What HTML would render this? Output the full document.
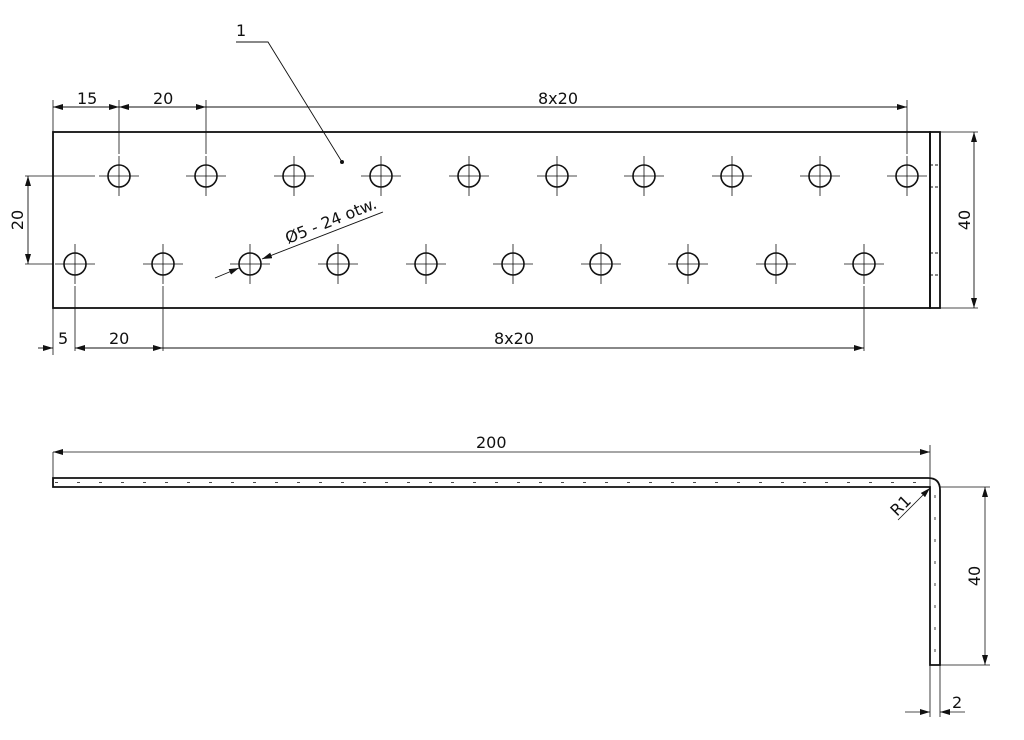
<!DOCTYPE html>
<html><head><style>body{margin:0;background:#fff}svg{display:block}text{font-family:"DejaVu Sans","Liberation Sans",sans-serif;font-size:16px;fill:#111}</style></head><body>
<svg width="1024" height="740" viewBox="0 0 1024 740" xmlns="http://www.w3.org/2000/svg">
<defs><marker id="a" viewBox="0 0 10 6" refX="10" refY="3" markerWidth="10" markerHeight="6" orient="auto-start-reverse" markerUnits="userSpaceOnUse"><path d="M0,0L10,3L0,6z" fill="#111"/></marker></defs>
<g stroke="#111" fill="none" stroke-width="1">
<rect x="53" y="132" width="877" height="176" stroke-width="1.8"/>
<rect x="930" y="132" width="10" height="176" stroke-width="1.8"/>
<path d="M930,165h10M930,187h10M930,253h10M930,275h10" stroke-dasharray="3 2"/>
<g id="holes" stroke-width="0.8">
</g>
</g>
<g stroke="#111" fill="none" stroke-width="1.6">
<circle cx="119" cy="176" r="11"/><circle cx="206" cy="176" r="11"/><circle cx="294" cy="176" r="11"/><circle cx="381" cy="176" r="11"/><circle cx="469" cy="176" r="11"/><circle cx="557" cy="176" r="11"/><circle cx="644" cy="176" r="11"/><circle cx="732" cy="176" r="11"/><circle cx="820" cy="176" r="11"/><circle cx="907" cy="176" r="11"/>
<circle cx="75" cy="264" r="11"/><circle cx="163" cy="264" r="11"/><circle cx="250" cy="264" r="11"/><circle cx="338" cy="264" r="11"/><circle cx="426" cy="264" r="11"/><circle cx="513" cy="264" r="11"/><circle cx="601" cy="264" r="11"/><circle cx="688" cy="264" r="11"/><circle cx="776" cy="264" r="11"/><circle cx="864" cy="264" r="11"/>
</g>
<g stroke="#111" stroke-width="0.8">
<path d="M99,176h40M119,156v40M186,176h40M206,156v40M274,176h40M294,156v40M361,176h40M381,156v40M449,176h40M469,156v40M537,176h40M557,156v40M624,176h40M644,156v40M712,176h40M732,156v40M800,176h40M820,156v40M887,176h40M907,156v40"/>
<path d="M55,264h40M75,244v40M143,264h40M163,244v40M230,264h40M250,244v40M318,264h40M338,244v40M406,264h40M426,244v40M493,264h40M513,244v40M581,264h40M601,244v40M668,264h40M688,244v40M756,264h40M776,244v40M844,264h40M864,244v40"/>
<!-- extension lines -->
<path d="M53,100v32M119,100v54M206,100v54M907,100v54M53,308v47M75,286v65M163,286v65M864,286v65M25,176h70M25,264h28M940,132h38M940,308h38"/>
</g>
<g stroke="#111" stroke-width="0.9" fill="none">
<path d="M53,107H119" marker-start="url(#a)" marker-end="url(#a)"/>
<path d="M119,107H206" marker-start="url(#a)" marker-end="url(#a)"/>
<path d="M206,107H907" marker-end="url(#a)"/>
<path d="M38,348H53" marker-end="url(#a)"/>
<path d="M75,348H163" marker-start="url(#a)" marker-end="url(#a)"/>
<path d="M163,348H864" marker-end="url(#a)"/>
<path d="M28,176V264" marker-start="url(#a)" marker-end="url(#a)"/>
<path d="M974,132V308" marker-start="url(#a)" marker-end="url(#a)"/>
<path d="M236,42H268L342,162"/>
<path d="M383,212L262,259" marker-end="url(#a)"/>
<path d="M215,278L239,268" marker-end="url(#a)"/>
</g>
<circle cx="342" cy="162" r="2" fill="#111"/>
<text x="236" y="36" font-size="20">1</text>
<text x="77" y="104">15</text>
<text x="153" y="104">20</text>
<text x="538" y="104">8x20</text>
<text x="58" y="344">5</text>
<text x="109" y="344">20</text>
<text x="494" y="344">8x20</text>
<text transform="translate(23,220) rotate(-90)" text-anchor="middle">20</text>
<text transform="translate(970,220) rotate(-90)" text-anchor="middle">40</text>
<text transform="translate(288,244) rotate(-22)">Ø5 - 24 otw.</text>
<!-- side view -->
<g stroke="#111" fill="none" stroke-width="1.8">
<path d="M53,478H928Q940,478 940,490V665H930V487H53Z"/>
</g>
<g stroke="#111" stroke-width="0.8" fill="none">
<path d="M55,482.5H928" stroke-dasharray="3 19"/>
<path d="M935,495V660" stroke-dasharray="3 19"/>
<path d="M53,452v26M930,445v272M940,665v52M940,487h50M940,665h50"/>
<path d="M53,452H930" marker-start="url(#a)" marker-end="url(#a)"/>
<path d="M985,487V665" marker-start="url(#a)" marker-end="url(#a)"/>
<path d="M905,712H930" marker-end="url(#a)"/>
<path d="M965,712H940" marker-end="url(#a)"/>
<path d="M898,520L930,488" marker-end="url(#a)"/>
</g>
<text x="476" y="448">200</text>
<text transform="translate(980,576) rotate(-90)" text-anchor="middle">40</text>
<text x="952" y="708">2</text>
<text transform="translate(897,517) rotate(-45)">R1</text>
</svg>
</body></html>
